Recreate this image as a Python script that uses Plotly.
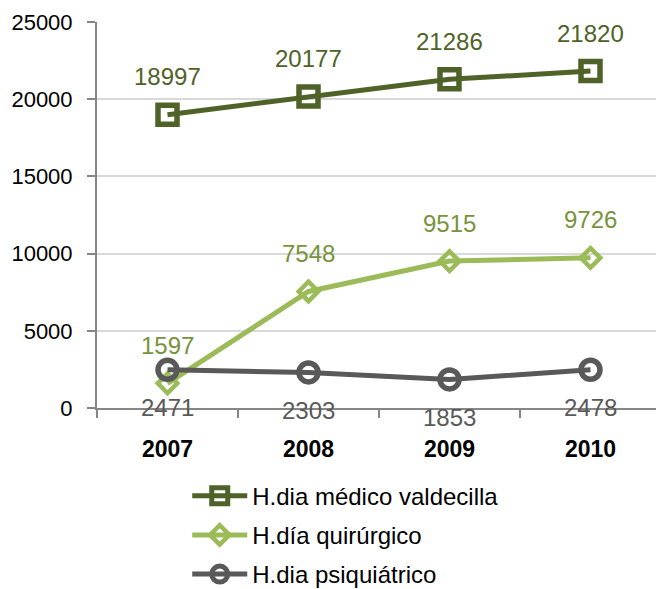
import plotly.graph_objects as go

years = ["2007", "2008", "2009", "2010"]
medico = [18997, 20177, 21286, 21820]
quirurgico = [1597, 7548, 9515, 9726]
psiquiatrico = [2471, 2303, 1853, 2478]
names = ["H.dia médico valdecilla", "H.día quirúrgico", "H.dia psiquiátrico"]

FONT = "Liberation Sans, Arial, sans-serif"

# name, values, line colour, label colour, symbol, marker size, marker line width, label shift
series = [
    (names[0], medico, "#4F6228", "#4F6228", "square-open", 19, 5.5, 38),
    (names[1], quirurgico, "#9BBB59", "#77933C", "diamond-open", 15, 4.5, 38),
    (names[2], psiquiatrico, "#595959", "#595959", "circle-open", 19, 5.5, -38),
]

fig = go.Figure()
annotations = []
for name, vals, col, lcol, sym, msize, mlw, shift in series:
    fig.add_trace(go.Scatter(
        x=years, y=vals, name=name, mode="lines+markers", legendgroup=name,
        line=dict(color=col, width=5),
        marker=dict(symbol=sym, size=msize, color=col, line=dict(width=mlw, color=col)),
    ))
    for i, v in enumerate(vals):
        annotations.append(dict(x=i, y=v, xref="x", yref="y", text=str(v), showarrow=False,
                                yshift=shift, font=dict(family=FONT, size=24, color=lcol)))

fig.update_layout(
    width=656, height=581,
    margin=dict(l=89, r=3, t=14, b=181, autoexpand=False),
    paper_bgcolor="white", plot_bgcolor="white",
    font=dict(family=FONT, color="black"),
    annotations=annotations,
    showlegend=True,
    legend=dict(x=0.16, y=-0.17, xanchor="left", yanchor="top",
                font=dict(family=FONT, size=24, color="black"),
                tracegroupgap=5, itemwidth=55, bgcolor="rgba(0,0,0,0)"),
    xaxis=dict(type="category", showgrid=False, showline=True, linecolor="#868686", linewidth=2,
               ticks="outside", tickson="boundaries", ticklen=8, tickcolor="#868686", tickwidth=2,
               tickfont=dict(family=FONT, size=23, color="black", weight="bold"),
               ticklabelstandoff=19, range=[-0.5, 3.5], automargin=False),
    yaxis=dict(range=[0, 25000], dtick=5000, tickformat="d", showgrid=True, gridcolor="#D9D9D9",
               gridwidth=2, showline=True, linecolor="#868686", linewidth=2, zeroline=False,
               ticks="outside", ticklen=8, tickcolor="#868686", tickwidth=2,
               ticklabelstandoff=10, automargin=False,
               tickfont=dict(family=FONT, size=22, color="black")),
)

fig.write_html("out.html")
